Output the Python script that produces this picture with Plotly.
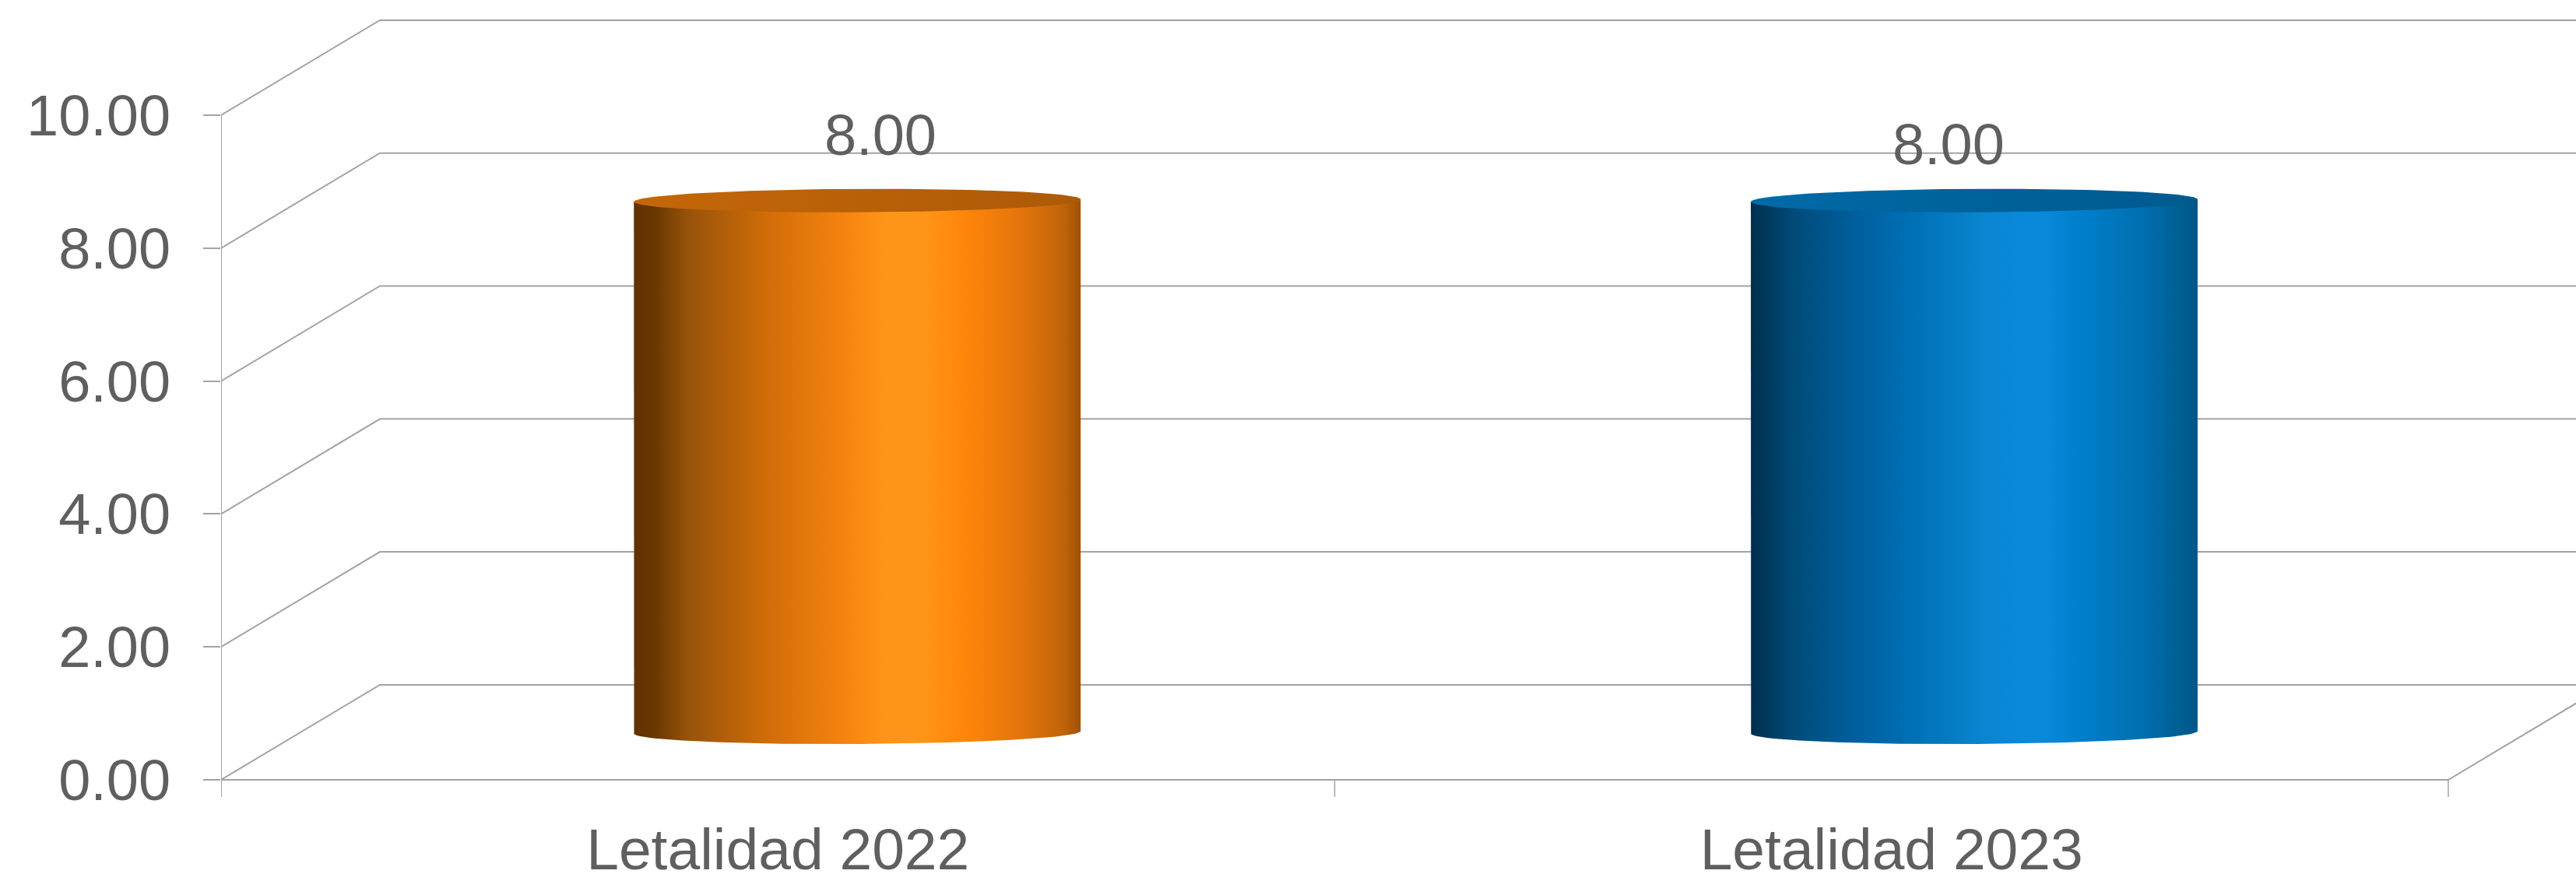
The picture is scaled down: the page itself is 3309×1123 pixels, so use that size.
import numpy as np
import plotly.graph_objects as go

categories = ["Letalidad 2022", "Letalidad 2023"]
values = [8.0, 8.0]
y_ticks = [0, 2, 4, 6, 8, 10]
y_tick_labels = ["0.00", "2.00", "4.00", "6.00", "8.00", "10.00"]

orange_body = [[0, "#5f3200"], [0.05, "#6a3800"], [0.117, "#96520a"], [0.295, "#d06c08"], [0.47, "#f5830f"],
               [0.56, "#ff9518"], [0.65, "#ff9518"], [0.735, "#ff860a"], [0.86, "#e5760c"], [0.96, "#c0640a"],
               [1, "#a05205"]]
orange_top = [[0, "#c46708"], [1, "#ad5a07"]]
blue_body = [[0, "#002e4d"], [0.09, "#004a76"], [0.235, "#005f9e"], [0.377, "#0072b8"], [0.52, "#0a85cf"],
             [0.6, "#0a88da"], [0.66, "#0a88da"], [0.73, "#0080cc"], [0.875, "#006fb0"], [0.96, "#005f92"],
             [1, "#00558a"]]
blue_top = [[0, "#006aa8"], [1, "#005a8e"]]
body_scales = [orange_body, blue_body]
top_scales = [orange_top, blue_top]

FONT = "Liberation Sans"
TEXT = "#5f5f5f"
GRID = "#a3a3a3"
DEPTH_X, DEPTH_Y = 0.1426, 1.43
BAR_HALF = 0.2006
BAR_SHIFT = [0.0, 0.003]
ELL_Y = 0.176
TILT = 0.018
X_RANGE = [-0.5, 1.6147]
Y_RANGE = [-0.2576, 11.733]
LABEL_OFFSETS = [(0.0921, 1.62), (0.0512, 1.48)]

fig = go.Figure()


def add_line(xs, ys, width=2):
    fig.add_trace(go.Scatter(x=xs, y=ys, mode="lines", line=dict(color=GRID, width=width),
                             hoverinfo="skip", showlegend=False))


for t in y_ticks:
    add_line([-0.5, -0.5 + DEPTH_X, X_RANGE[1]], [t, t + DEPTH_Y, t + DEPTH_Y], 2)
add_line([-0.5, 1.5, 1.5 + DEPTH_X], [0, 0, DEPTH_Y], 2)
add_line([-0.5, -0.5], [Y_RANGE[0], y_ticks[-1]], 2)
for x in [0.5, 1.5]:
    add_line([x, x], [Y_RANGE[0], 0], 1.5)

theta = np.linspace(0, np.pi, 80)
for i, v in enumerate(values):
    cx = i + DEPTH_X / 2 + BAR_SHIFT[i]
    base = DEPTH_Y / 2
    top = base + v
    arc_x = cx - BAR_HALF * np.cos(theta)
    arc_t = -np.cos(theta)
    arc_y = base - ELL_Y * np.sin(theta) + TILT * arc_t
    bx = np.concatenate([[cx - BAR_HALF], arc_x, [cx + BAR_HALF, cx - BAR_HALF]])
    by = np.concatenate([[top - TILT], arc_y, [top + TILT, top - TILT]])
    fig.add_trace(go.Scatter(x=bx, y=by, mode="lines", line=dict(width=0), fill="toself",
                             fillgradient=dict(type="horizontal", colorscale=body_scales[i]),
                             hoverinfo="skip", showlegend=False))
    th = np.linspace(0, 2 * np.pi, 160)
    ex = cx - BAR_HALF * np.cos(th)
    ey = top + ELL_Y * np.sin(th) - TILT * np.cos(th)
    fig.add_trace(go.Scatter(x=ex, y=ey, mode="lines", line=dict(width=0), fill="toself",
                             fillgradient=dict(type="horizontal", colorscale=top_scales[i]),
                             hoverinfo="skip", showlegend=False))

fig.add_trace(go.Scatter(
    x=[i + LABEL_OFFSETS[i][0] for i in range(len(values))],
    y=[v + LABEL_OFFSETS[i][1] for i, v in enumerate(values)],
    text=[f"{v:.2f}" for v in values], mode="text", textposition="middle center",
    textfont=dict(family=FONT, size=74, color=TEXT), hoverinfo="skip", showlegend=False))

fig.update_layout(
    width=3309, height=1123, autosize=False,
    margin=dict(l=284, r=0, t=0, b=99, pad=0),
    paper_bgcolor="white", plot_bgcolor="white", showlegend=False,
    font=dict(family=FONT, color=TEXT, size=74),
    xaxis=dict(range=X_RANGE, tickmode="array", tickvals=list(range(len(categories))), ticktext=categories,
               showgrid=False, zeroline=False, showline=False, ticks="", ticklabelstandoff=17, automargin=False,
               tickfont=dict(family=FONT, size=75, color=TEXT)),
    yaxis=dict(range=Y_RANGE, tickmode="array", tickvals=y_ticks, ticktext=y_tick_labels,
               showgrid=False, zeroline=False, showline=False, ticks="outside", ticklen=22, tickwidth=2,
               ticklabelstandoff=27, automargin=False,
               tickcolor=GRID, tickfont=dict(family=FONT, size=74, color=TEXT)),
)

fig.write_html("out.html", config={"displayModeBar": False},
               post_script="document.body.style.margin='0';document.documentElement.style.overflow='hidden';")
